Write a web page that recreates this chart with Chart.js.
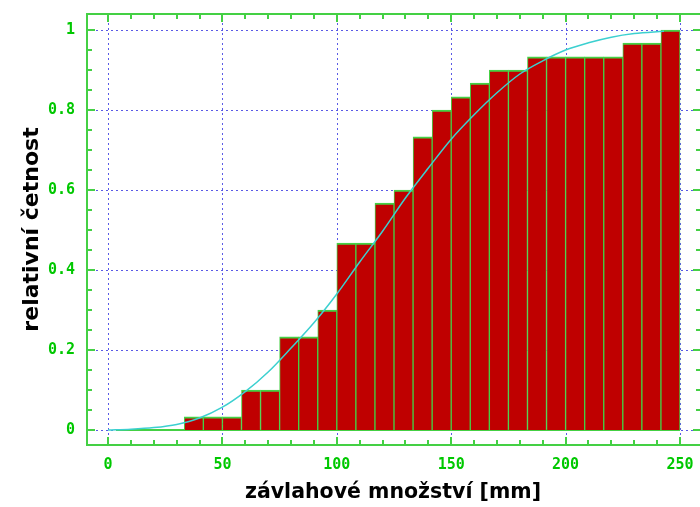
<!DOCTYPE html>
<html>
<head>
<meta charset="utf-8">
<script src="https://cdn.jsdelivr.net/npm/chart.js"></script>
<style>
  html, body { margin: 0; padding: 0; background: #fff; }
  #wrap { width: 700px; height: 507px; }
</style>
</head>
<body>
<div id="wrap"><canvas id="chart"></canvas></div>
<script>
// histogram bins [mm] and cumulative relative frequency per bin
const binEdges = [0, 8.33, 16.67, 25, 33.33, 41.67, 50, 58.33, 66.67, 75, 83.33, 91.67, 100,
  108.33, 116.67, 125, 133.33, 141.67, 150, 158.33, 166.67, 175, 183.33, 191.67, 200,
  208.33, 216.67, 225, 233.33, 241.67, 250];
const cumFreq = [0, 0, 0, 0, 0.033, 0.033, 0.033, 0.1, 0.1, 0.233, 0.233, 0.3, 0.467, 0.467,
  0.567, 0.6, 0.733, 0.8, 0.833, 0.867, 0.9, 0.9, 0.933, 0.933, 0.933, 0.933, 0.933,
  0.967, 0.967, 1];

// zero line under the histogram
const baseX = [3.5, 250];
const baseY = [0, 0];

// fitted distribution curve
const curveX = [0, 10, 20, 30, 40, 50, 60, 70, 80, 90, 100, 110, 120, 130, 140, 150, 160,
  170, 180, 190, 200, 210, 220, 230, 243];
const curveY = [0, 0.002, 0.006, 0.014, 0.03, 0.057, 0.096, 0.145, 0.205, 0.268, 0.34, 0.42,
  0.497, 0.58, 0.655, 0.727, 0.788, 0.843, 0.89, 0.923, 0.95, 0.968, 0.982, 0.991, 0.997];

// axis ticks
const xMajor = [0, 50, 100, 150, 200, 250];
const xMinor = [10, 20, 30, 40, 60, 70, 80, 90, 110, 120, 130, 140, 160, 170, 180, 190,
  210, 220, 230, 240];
const yMajor = [0, 0.2, 0.4, 0.6, 0.8, 1];
const yMinor = [0.05, 0.1, 0.15, 0.25, 0.3, 0.35, 0.45, 0.5, 0.55, 0.65, 0.7, 0.75, 0.85, 0.9, 0.95];

const GREEN = '#44d044';
const LABEL = '#00c800';
const BAR = '#bf0000';
const CYAN = '#3cd0d0';
const GRID = '#5a5ae6';

const tickFont = { family: 'DejaVu Sans Mono', size: 15, weight: 'bold' };

// dotted grid behind the bars, frame and inward ticks on top
const frameGrid = {
  id: 'frameGrid',
  beforeDatasetsDraw(chart) {
    const { ctx, chartArea: a, scales: { x, y } } = chart;
    ctx.save();
    ctx.strokeStyle = GRID;
    ctx.lineWidth = 1;
    ctx.setLineDash([2, 3]);
    ctx.beginPath();
    xMajor.forEach(v => {
      const px = Math.round(x.getPixelForValue(v)) + 0.5;
      ctx.moveTo(px, a.top); ctx.lineTo(px, a.bottom);
    });
    yMajor.forEach(v => {
      const py = Math.round(y.getPixelForValue(v)) + 0.5;
      ctx.moveTo(a.left, py); ctx.lineTo(a.right, py);
    });
    ctx.stroke();
    ctx.restore();
  },
  afterDatasetsDraw(chart) {
    const { ctx, chartArea: a, scales: { x, y } } = chart;
    ctx.save();
    ctx.strokeStyle = GREEN;
    ctx.lineWidth = 2;
    ctx.beginPath();
    ctx.moveTo(a.right + 2, a.top + 1);
    ctx.lineTo(a.left + 1, a.top + 1);
    ctx.lineTo(a.left + 1, a.bottom - 1);
    ctx.lineTo(a.right + 2, a.bottom - 1);
    ctx.stroke();

    const xt = (list, len) => list.forEach(v => {
      const px = Math.round(x.getPixelForValue(v));
      ctx.moveTo(px, a.top + 2); ctx.lineTo(px, a.top + 2 + len);
      ctx.moveTo(px, a.bottom - 2); ctx.lineTo(px, a.bottom - 2 - len);
    });
    const yt = (list, len) => list.forEach(v => {
      const py = Math.round(y.getPixelForValue(v));
      ctx.moveTo(a.left + 2, py); ctx.lineTo(a.left + 2 + len, py);
      ctx.moveTo(a.right, py); ctx.lineTo(a.right - len, py);
    });
    ctx.beginPath();
    xt(xMajor, 7); xt(xMinor, 4);
    yt(yMajor, 7); yt(yMinor, 4);
    ctx.stroke();
    ctx.restore();
  }
};

// pin the plot frame where the reference has it
const pinX = s => { s.height = 61; s.paddingLeft = 0; s.paddingRight = 0; };
const pinY = s => { s.width = 86; s.paddingTop = 0; s.paddingBottom = 0; };

new Chart(document.getElementById('chart'), {
  type: 'bar',
  data: {
    datasets: [
      {
        type: 'line',
        data: curveX.map((v, i) => ({ x: v, y: curveY[i] })),
        borderColor: CYAN,
        borderWidth: 1.5,
        pointRadius: 0,
        cubicInterpolationMode: 'monotone',
        order: 0
      },
      {
        type: 'bar',
        data: cumFreq.map((v, i) => ({ x: (binEdges[i] + binEdges[i + 1]) / 2, y: v })),
        backgroundColor: BAR,
        borderColor: GREEN,
        borderWidth: { top: 2, left: 1, right: 1, bottom: 0 },
        borderSkipped: false,
        barPercentage: 1,
        categoryPercentage: 1,
        order: 1
      },
      {
        type: 'line',
        data: baseX.map((v, i) => ({ x: v, y: baseY[i] })),
        borderColor: GREEN,
        borderWidth: 2,
        pointRadius: 0,
        order: 2
      }
    ]
  },
  options: {
    responsive: true,
    maintainAspectRatio: false,
    animation: false,
    events: [],
    layout: { padding: { top: 13, right: 0, left: 0, bottom: 0 } },
    plugins: { legend: { display: false }, tooltip: { enabled: false } },
    scales: {
      x: {
        type: 'linear',
        offset: false,
        min: -9.62,
        max: 258.74,
        afterBuildTicks: s => { s.ticks = xMajor.map(v => ({ value: v })); },
        afterFit: pinX,
        grid: { display: false, drawTicks: false, offset: false },
        border: { display: false },
        ticks: {
          color: LABEL, font: tickFont, padding: 10, maxRotation: 0, autoSkip: false,
          callback: v => String(v)
        },
        title: {
          display: true, text: 'závlahové množství [mm]', color: '#000',
          font: { family: 'DejaVu Sans', size: 20.5, weight: 'bold' },
          padding: { top: 0, bottom: 2 }
        }
      },
      y: {
        type: 'linear',
        min: -0.04,
        max: 1.0425,
        afterBuildTicks: s => { s.ticks = yMajor.map(v => ({ value: v })); },
        afterFit: pinY,
        grid: { display: false, drawTicks: false },
        border: { display: false },
        ticks: {
          color: LABEL, font: tickFont, padding: 11, autoSkip: false,
          callback: v => String(v)
        },
        title: {
          display: true, text: 'relativní četnost', color: '#000',
          font: { family: 'DejaVu Sans', size: 22, weight: 'bold' },
          padding: { top: 19, bottom: 0 }
        }
      }
    }
  },
  plugins: [frameGrid]
});
</script>
</body>
</html>
